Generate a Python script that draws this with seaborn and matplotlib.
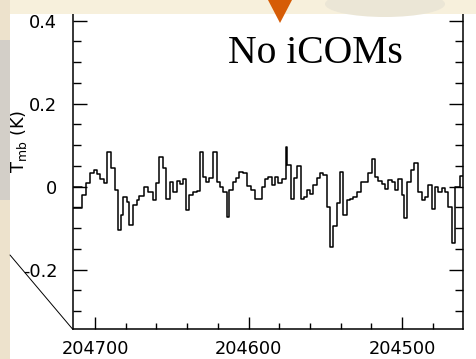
import numpy as np
import pandas as pd
import matplotlib
matplotlib.use("Agg")
import matplotlib.pyplot as plt
import seaborn as sns
from matplotlib.ticker import MultipleLocator, FuncFormatter
from matplotlib.patches import Rectangle, Polygon, Ellipse
from matplotlib.lines import Line2D

# ---------------- data ----------------
# channel edges (MHz, decreasing) and channel brightness temperatures (K)
edges_mhz = [
    204715.0, 204708.7, 204705.9, 204703.3, 204700.7, 204698.9, 204696.7, 204694.1,
    204692.0, 204689.4, 204687.0, 204684.8, 204683.3, 204681.5, 204679.4, 204677.6,
    204675.5, 204672.9, 204671.1, 204668.1, 204665.3, 204662.4, 204660.3, 204658.1,
    204655.9, 204653.7, 204651.1, 204649.0, 204646.8, 204644.6, 204642.5, 204640.7,
    204638.5, 204636.4, 204633.8, 204631.6, 204629.9, 204627.7, 204625.5, 204622.9,
    204620.3, 204618.6, 204616.4, 204614.2, 204612.5, 204610.3, 204608.1, 204606.0,
    204603.4, 204600.8, 204598.6, 204595.8, 204591.4, 204589.3, 204587.1, 204584.9,
    204582.7, 204580.6, 204578.4, 204575.6, 204574.7, 204572.5, 204570.4, 204568.2,
    204566.0, 204563.8, 204562.1, 204559.9, 204557.8, 204555.6, 204553.4, 204551.2,
    204549.1, 204546.9, 204544.7, 204542.6, 204540.4, 204538.2, 204536.0, 204533.9,
    204531.7, 204529.1, 204526.9, 204524.8, 204521.9, 204519.8, 204517.6, 204515.4,
    204513.3, 204511.1, 204508.9, 204506.7, 204504.6, 204502.4, 204500.2, 204498.7,
    204496.5, 204494.4, 204492.2, 204489.4, 204487.2, 204485.0, 204482.8, 204480.7,
    204478.5, 204476.3, 204474.2, 204472.0, 204469.8, 204467.6, 204465.5, 204462.2,
    204459.0,
]
tmb_k = [
    -0.052, -0.020, 0.008, 0.032, 0.039, 0.030, 0.018, 0.008,
    0.083, 0.044, -0.008, -0.104, -0.068, -0.026, -0.036, -0.092,
    -0.044, -0.032, -0.022, 0.000, -0.012, -0.032, 0.008, 0.071,
    0.044, -0.030, 0.012, -0.012, 0.014, 0.006, 0.018, -0.056,
    -0.020, -0.014, -0.010, 0.083, 0.024, 0.010, 0.022, 0.083,
    0.010, 0.000, -0.012, -0.072, -0.008, 0.010, 0.022, 0.036,
    0.034, 0.002, -0.008, -0.030, 0.000, 0.018, 0.024, 0.004,
    0.024, 0.008, 0.018, 0.096, 0.052, -0.030, 0.020, 0.050,
    -0.030, -0.024, -0.008, -0.018, 0.004, 0.020, 0.032, 0.028,
    -0.048, -0.145, -0.096, -0.040, 0.036, -0.068, -0.032, -0.030,
    -0.026, -0.012, 0.010, 0.012, 0.032, 0.066, 0.024, 0.014,
    0.006, -0.006, 0.016, 0.010, -0.008, 0.018, -0.020, -0.076,
    0.012, 0.039, 0.056, -0.012, -0.032, -0.026, 0.004, -0.055,
    0.000, -0.014, -0.004, -0.012, -0.048, -0.136, 0.000, 0.026,
]
baseline_mhz = [204715.0, 204708.7]
baseline_k = [0.0, 0.0]

ytick_vals = [-0.2, 0.0, 0.2, 0.4]
xtick_vals = [204700, 204600, 204500]
title_text = "No iCOMs"
ylabel_text = r"T$_{\rm mb}$ (K)"

# ---------------- figure ----------------
W, H = 476, 359
sns.set_theme(style="ticks")
plt.rcParams["font.family"] = ["DejaVu Sans"]
plt.rcParams["axes.unicode_minus"] = False

fig = plt.figure(figsize=(W / 100, H / 100), dpi=100, facecolor="#f6eed8")

def fx(px):
    return px / W

def fy(py):
    return 1 - py / H

# white slide panel behind the plot
fig.patches.append(Rectangle((fx(10), 0), fx(466), 1 - 14 / H, transform=fig.transFigure,
                             facecolor="white", edgecolor="none", zorder=-5))

ax = fig.add_axes([fx(72.5), fy(329), fx(463) - fx(72.5), fy(14) - fy(329)])
ax.patch.set_alpha(0)

df = pd.DataFrame({"freq": edges_mhz, "tmb": tmb_k + [tmb_k[-1]]})
sns.lineplot(data=df, x="freq", y="tmb", ax=ax, drawstyle="steps-post",
             estimator=None, sort=False, color="black", linewidth=1.1)
ax.plot(baseline_mhz, baseline_k, color="black", linewidth=1.1)

ax.set_xlim(204714.7, 204460.3)
ax.set_ylim(-0.343, 0.416)

ax.xaxis.set_minor_locator(MultipleLocator(20))
ax.yaxis.set_minor_locator(MultipleLocator(0.05))
ax.set_xticks(xtick_vals)
ax.set_yticks(ytick_vals)
ax.xaxis.set_major_formatter(FuncFormatter(lambda v, p: f"{v:.0f}"))
ax.yaxis.set_major_formatter(FuncFormatter(lambda v, p: "0" if abs(v) < 1e-9 else f"{v:.1f}"))

ax.tick_params(axis="x", which="major", direction="in", length=9, width=1.0,
               labelsize=12.8, pad=8, top=False, color="black", labelcolor="black")
ax.tick_params(axis="x", which="minor", direction="in", length=4.5, width=1.0,
               top=False, color="black")
ax.tick_params(axis="y", which="major", direction="in", length=10, width=1.0,
               labelsize=12.8, pad=11, right=True, color="black", labelcolor="black")
ax.tick_params(axis="y", which="minor", direction="in", length=5.5, width=1.0,
               right=True, color="black")

for side in ["left", "bottom", "right"]:
    ax.spines[side].set_linewidth(1.1)
    ax.spines[side].set_color("black")
ax.spines["top"].set_visible(False)

ax.set_xlabel("")
ax.set_ylabel(ylabel_text, fontsize=12.8, color="black")
ax.yaxis.set_label_coords(-0.112, 0.595)

ax.text(0.622, 0.845, title_text, transform=ax.transAxes, ha="center", va="baseline",
        fontsize=28.5, family=["Liberation Serif", "DejaVu Serif"], color="black")

# slide decorations on top of the plot
fig.patches.append(Rectangle((0, fy(14)), 1, 14 / H, transform=fig.transFigure,
                             facecolor="#f7f0dc", edgecolor="none", zorder=5))
fig.patches.append(Ellipse((fx(385), fy(4)), fx(120), 26 / H, transform=fig.transFigure,
                           facecolor="#ebe6d6", edgecolor="none", zorder=6))
fig.patches.append(Rectangle((0, 0), fx(10), 1, transform=fig.transFigure,
                             facecolor="#ede2cc", edgecolor="none", zorder=5))
fig.patches.append(Rectangle((0, fy(200)), fx(10), 160 / H, transform=fig.transFigure,
                             facecolor="#d3cfc8", edgecolor="none", zorder=6))
fig.patches.append(Polygon([(fx(268), 1), (fx(292), 1), (fx(280), fy(23))], closed=True,
                           transform=fig.transFigure, facecolor="#d65c06",
                           edgecolor="none", zorder=7))
fig.lines.append(Line2D([fx(10), fx(72.5)], [fy(255), fy(329)], transform=fig.transFigure,
                        color="black", linewidth=0.7, zorder=7))

fig.savefig("out.png", dpi=100, facecolor=fig.get_facecolor())
